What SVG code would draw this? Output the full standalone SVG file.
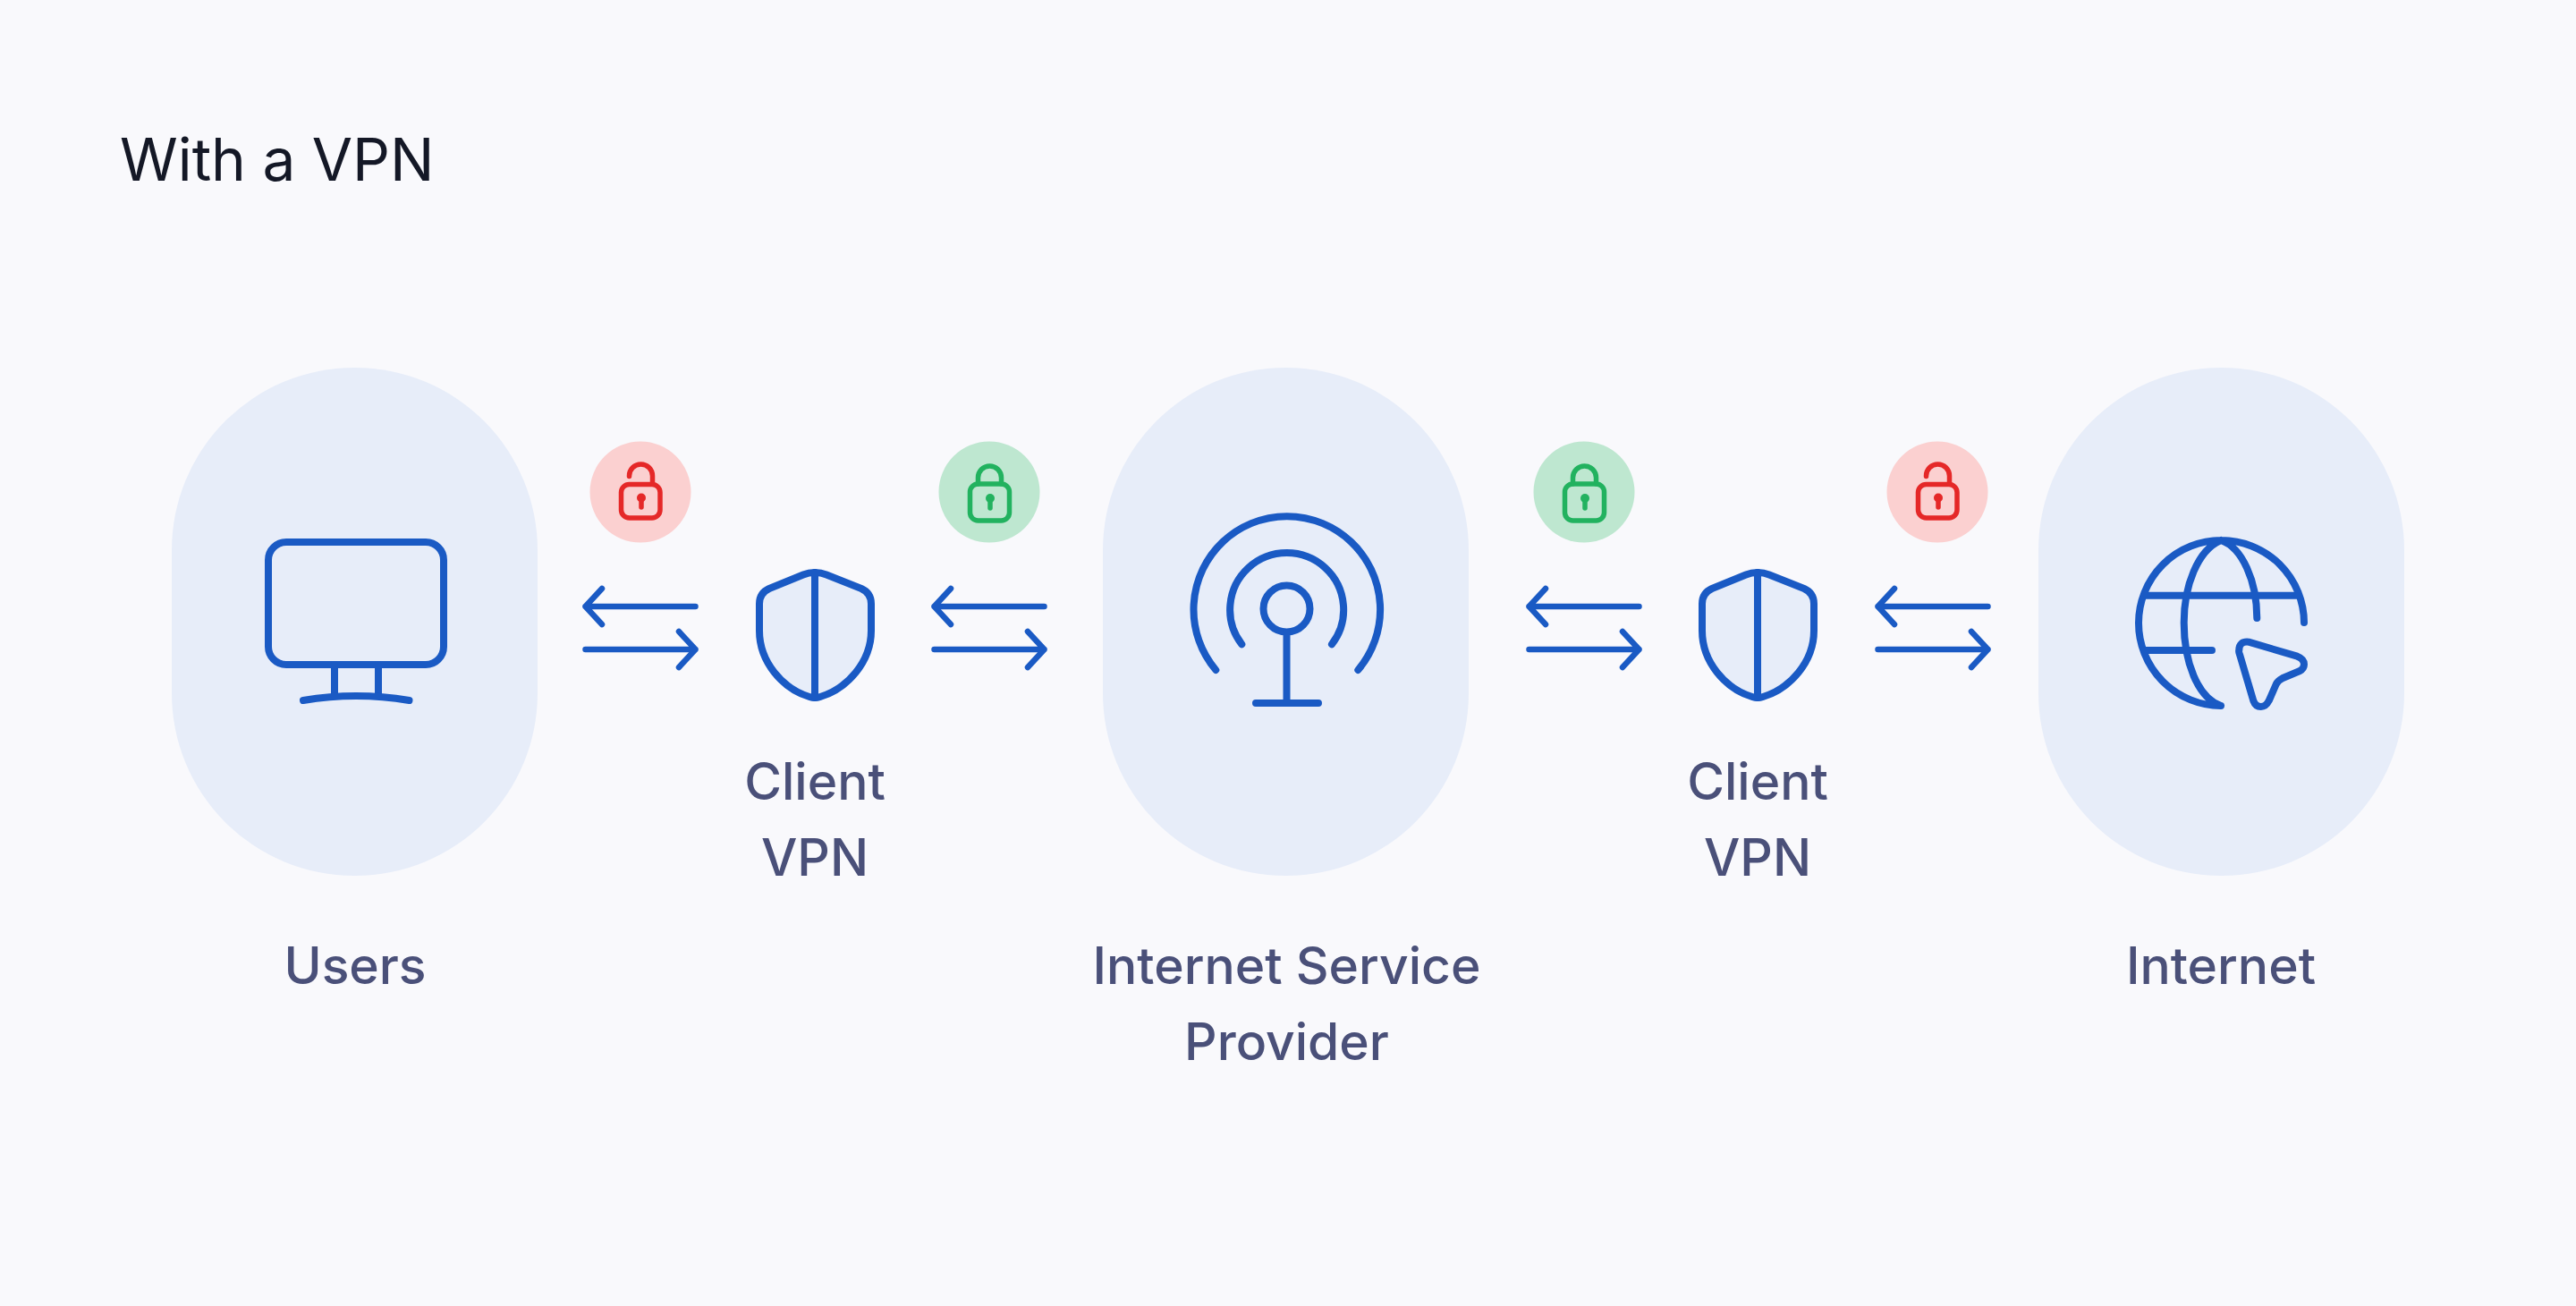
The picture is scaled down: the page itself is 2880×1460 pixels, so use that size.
<svg xmlns="http://www.w3.org/2000/svg" width="2880" height="1460" viewBox="0 0 2880 1460">
<style>
.bg{fill:#f9f9fc}
.pill{fill:#e7edf9}
.ic{fill:none;stroke:#1a5ac4;stroke-width:8;stroke-linecap:round;stroke-linejoin:round}
.arr{fill:none;stroke:#1a5ac4;stroke-width:6.500;stroke-linecap:round;stroke-linejoin:round}
.lab{font-family:Inter,"Liberation Sans",sans-serif;font-size:57px;font-weight:500;fill:#4a5079;text-anchor:middle}
.title{font-family:Inter,"Liberation Sans",sans-serif;font-size:65.700px;fill:#141826}
.rl{fill:none;stroke:#e52828;stroke-width:5.500;stroke-linecap:round;stroke-linejoin:round}
.gl{fill:none;stroke:#22b25f;stroke-width:5.500;stroke-linecap:round;stroke-linejoin:round}
.rk{fill:#e52828}
.gk{fill:#22b25f}
</style>
<defs>
<g id="open"><circle r="56.500" fill="#fbd0d0"/><rect x="-21.500" y="-8.500" width="43.500" height="37.500" rx="9" class="rl"/><path d="M-12.500 -17.500V-18a13 13 0 0 1 26 0V-9" class="rl"/><circle cx="1" cy="6.500" r="5" class="rk"/><path d="M1 8V17" class="rl"/></g>
<g id="closed"><circle r="56.500" fill="#bee7d0"/><rect x="-21.500" y="-9" width="44" height="41" rx="9" class="gl"/><path d="M-12.500 -9V-16a13 13 0 0 1 26 0V-9" class="gl"/><circle cx="1" cy="7" r="5" class="gk"/><path d="M1 9V18" class="gl"/></g>
<g id="shield"><path class="ic" style="fill:#e7edf9" d="M0 640Q-7 640-13 642.500L-51 658Q-62 663-62 675V705C-62 740-36 770-6 779Q0 781 6 779C36 770 63 740 63 705V675Q63 663 52 658L13 642.500Q7 640 0 640Z"/><path class="ic" d="M0 640V780"/></g>
<g id="arrows"><path class="arr" d="M126.500 678H3.500M22 658L3.500 678L22 698"/><path class="arr" d="M3.500 726H126.500M108 706L126.500 726L108 746"/></g>
</defs>
<rect class="bg" width="2880" height="1460"/>
<text class="title" x="134" y="201.500">With a VPN</text>
<g id="users"><rect class="pill" x="192" y="411" width="409" height="568" rx="204"/><rect class="ic" x="300" y="606" width="196" height="137" rx="20"/><path class="ic" d="M374 743V778M423 743V778"/><path class="ic" d="M339 783Q398 773 457.500 783"/><text class="lab" x="397" y="1100">Users</text></g>
<g id="client-vpn-1"><use href="#shield" x="911"/><text class="lab" x="911" y="893.500">Client</text><text class="lab" x="911" y="979">VPN</text></g>
<g id="isp"><rect class="pill" x="1233" y="411" width="409" height="568" rx="204"/><circle class="ic" cx="1438.500" cy="680.500" r="26"/><path class="ic" d="M1438.500 707V786M1404 786H1474M1388.300 720.300A63.500 63.500 0 1 1 1489 720.300M1359.300 749A104.300 104.300 0 1 1 1518.300 749"/><text class="lab" x="1438.500" y="1099.500">Internet Service</text><text class="lab" x="1438.500" y="1185">Provider</text></g>
<g id="client-vpn-2"><use href="#shield" x="1965"/><text class="lab" x="1965" y="893.500">Client</text><text class="lab" x="1965" y="979">VPN</text></g>
<g id="internet"><rect class="pill" x="2279" y="411" width="409" height="568" rx="204"/><path class="ic" d="M2576 696A92.500 92.500 0 1 0 2483 789M2398 665.700H2568M2398 727H2473M2483 604C2457 615 2441.700 655 2441.700 696C2441.700 740 2457 780 2483 789M2483 604C2507 612 2523.300 650 2523.300 691"/><path class="ic" d="M2503.300 726.700Q2503.300 716.700 2514 717.700L2568.300 733.700Q2576 736.700 2576 742.700Q2576 747.700 2570.700 750.300L2551.700 758.300Q2546.700 760.700 2544.700 765L2536.700 783.300Q2533.300 790 2527.700 790Q2521.700 790 2519.300 783.300L2504 731.700Q2502.700 728.400 2503.300 726.700Z"/><text class="lab" x="2483" y="1100">Internet</text></g>
<g id="locks"><use href="#open" x="716" y="550"/><use href="#closed" x="1106" y="550"/><use href="#closed" x="1771" y="550"/><use href="#open" x="2166" y="550"/></g>
<g id="connectors"><use href="#arrows" x="651"/><use href="#arrows" x="1041"/><use href="#arrows" x="1706"/><use href="#arrows" x="2096"/></g>
</svg>
